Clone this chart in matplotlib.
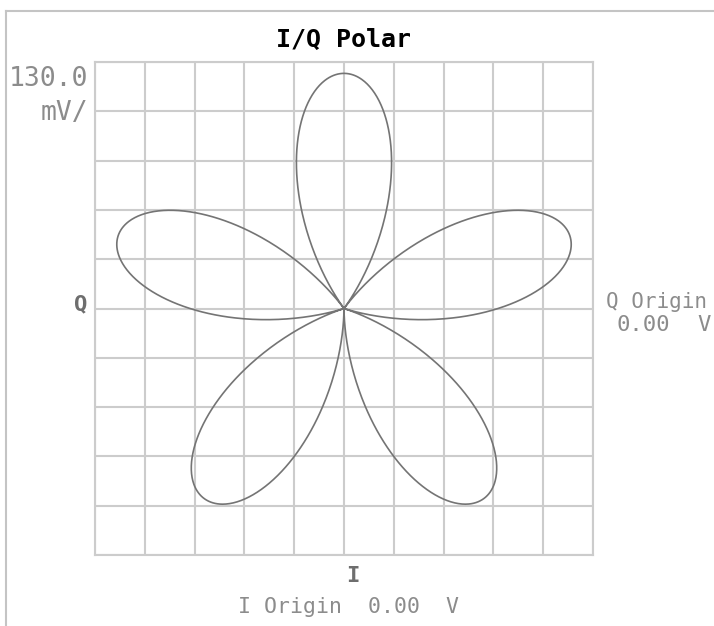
import numpy as np
import matplotlib
matplotlib.use("Agg")
import matplotlib.pyplot as plt
from matplotlib.lines import Line2D

# ---- data ----
title = "I/Q Polar"
scale_mv_per_div = 130.0
n_div = 10
petal_axes_deg = [90, 234, 18, 162, 306]   # petal directions (drawing order)
petal_amplitude_v = 0.62                   # petal tip radius (V)
petal_half_width_deg = 36.0                # angular half-width of each petal at origin
petal_shape_exp = 1.25                     # petal profile exponent
i_origin_v = 0.00
q_origin_v = 0.00

# ---- figure ----
W, H = 714, 626
fig = plt.figure(figsize=(W / 100, H / 100), dpi=100)
fig.patch.set_facecolor("white")

ax_l, ax_r, ax_t, ax_b = 95, 593, 62, 555
ax = fig.add_axes([ax_l / W, 1 - ax_b / H, (ax_r - ax_l) / W, (ax_b - ax_t) / H])

half = scale_mv_per_div / 1000 * n_div / 2
ax.set_xlim(-half, half)
ax.set_ylim(-half, half)
ticks = np.linspace(-half, half, n_div + 1)
ax.set_xticks(ticks)
ax.set_yticks(ticks)
ax.tick_params(length=0, labelbottom=False, labelleft=False)
gridc = "#cccccc"
ax.grid(True, color=gridc, linewidth=1.5)
for s in ax.spines.values():
    s.set_color(gridc)
    s.set_linewidth(1.5)
ax.set_axisbelow(True)

# rose-like petals
xs, ys = [], []
hw = np.deg2rad(petal_half_width_deg)
k = np.pi / (2 * hw)
d = np.linspace(-hw, hw, 400)
for a in petal_axes_deg:
    r = petal_amplitude_v * np.cos(k * d) ** petal_shape_exp
    th = np.deg2rad(a) + d
    xs.append(r * np.cos(th))
    ys.append(r * np.sin(th))
x = np.concatenate(xs)
y = np.concatenate(ys)
ax.plot(x, y, color="#747474", linewidth=1.2, zorder=3)

# ---- texts ----
mono = "DejaVu Sans Mono"
grey = "#8c8c8c"
def px(xp, yp):
    return xp / W, 1 - yp / H

fig.text(*px(344, 40), title, ha="center", va="center", fontsize=18,
         fontweight="bold", family=mono, color="black")
fig.text(*px(88, 79), f"{scale_mv_per_div:.1f}", ha="right", va="center",
         fontsize=19, family=mono, color=grey)
fig.text(*px(88, 113), "mV/", ha="right", va="center",
         fontsize=19, family=mono, color=grey)
fig.text(*px(81, 304), "Q", ha="center", va="center", fontsize=16,
         fontweight="bold", family=mono, color="#6e6e6e")
fig.text(*px(606, 302), "Q Origin", ha="left", va="center", fontsize=15,
         family=mono, color=grey)
fig.text(*px(617, 325), f"{q_origin_v:.2f}", ha="left", va="center",
         fontsize=16, family=mono, color=grey)
fig.text(*px(711, 325), "V", ha="right", va="center",
         fontsize=16, family=mono, color=grey)
fig.text(*px(353, 576), "I", ha="center", va="center", fontsize=16,
         fontweight="bold", family=mono, color="#6e6e6e")
fig.text(*px(348, 607), f"I Origin  {i_origin_v:.2f}  V", ha="center",
         va="center", fontsize=15.5, family=mono, color=grey)

# frame border lines (top and left)
bc = "#c4c4c4"
fig.add_artist(Line2D([6 / W, 1], [1 - 11 / H, 1 - 11 / H], color=bc,
                      linewidth=1.5, transform=fig.transFigure))
fig.add_artist(Line2D([6 / W, 6 / W], [0, 1 - 11 / H], color=bc,
                      linewidth=1.5, transform=fig.transFigure))

fig.savefig("out.png", dpi=100, facecolor="white")
